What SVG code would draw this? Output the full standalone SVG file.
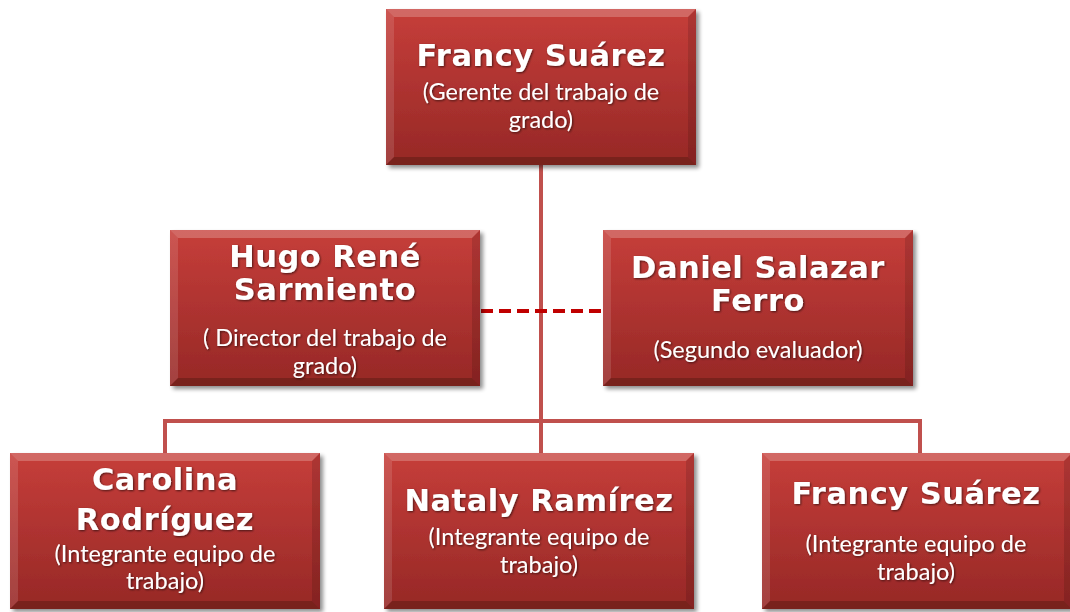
<svg xmlns="http://www.w3.org/2000/svg" width="1070" height="612" viewBox="0 0 1070 612">
<style>
.name{font-family:"DejaVu Sans","Liberation Sans",sans-serif;font-weight:bold;font-size:30.5px;fill:#fff;text-anchor:middle;letter-spacing:0.5px}
.sub{font-family:"Lato","Open Sans",sans-serif;font-size:23.5px;fill:#fff;text-anchor:middle}
.txt{filter:url(#ts)}
.line{fill:none;stroke:#c0504d;stroke-width:4}
.dash{fill:none;stroke:#c00000;stroke-width:4;stroke-dasharray:12 6}
</style>
<defs>
<linearGradient id="g" x1="0" y1="0" x2="0" y2="1">
<stop offset="0" stop-color="#c63e3a"/>
<stop offset="1" stop-color="#962826"/>
</linearGradient>
<filter id="sh" x="-10%" y="-10%" width="125%" height="125%">
<feGaussianBlur in="SourceAlpha" stdDeviation="2"/>
<feOffset dx="3" dy="3"/>
<feComponentTransfer><feFuncA type="linear" slope="0.45"/></feComponentTransfer>
<feMerge><feMergeNode/><feMergeNode in="SourceGraphic"/></feMerge>
</filter>
<filter id="ts" x="-5%" y="-20%" width="110%" height="140%">
<feGaussianBlur in="SourceAlpha" stdDeviation="1"/>
<feOffset dx="1" dy="1"/>
<feComponentTransfer><feFuncA type="linear" slope="0.6"/></feComponentTransfer>
<feMerge><feMergeNode/><feMergeNode in="SourceGraphic"/></feMerge>
</filter>
<symbol id="box" viewBox="0 0 310 156" width="310" height="156">
<rect x="0" y="0" width="310" height="156" fill="url(#g)"/>
<polygon points="0,0 310,0 302,8 8,8" fill="#fff" fill-opacity="0.22"/>
<polygon points="0,0 8,8 8,148 0,156" fill="#fff" fill-opacity="0.12"/>
<polygon points="310,0 310,156 302,148 302,8" fill="#000" fill-opacity="0.12"/>
<polygon points="0,156 8,148 302,148 310,156" fill="#000" fill-opacity="0.2"/>
</symbol>
</defs>
<rect width="1070" height="612" fill="#fff"/>
<g id="connectors">
<line class="line" x1="541" y1="165" x2="541" y2="453"/>
<polyline class="line" points="165,453 165,421 920,421 920,453"/>
<line class="dash" x1="481" y1="311" x2="603" y2="311"/>
</g>
<g id="n-gerente">
<use href="#box" x="386" y="9" filter="url(#sh)"/>
<g class="txt">
<text class="name" x="541" y="66">Francy Suárez</text>
<text class="sub" x="541" y="100">(Gerente del trabajo de</text>
<text class="sub" x="541" y="128">grado)</text>
</g>
</g>
<g id="n-director">
<use href="#box" x="170" y="230" filter="url(#sh)"/>
<g class="txt">
<text class="name" x="325" y="267">Hugo René</text>
<text class="name" x="325" y="300">Sarmiento</text>
<text class="sub" x="325" y="346">( Director del trabajo de</text>
<text class="sub" x="325" y="374">grado)</text>
</g>
</g>
<g id="n-evaluador">
<use href="#box" x="603" y="230" filter="url(#sh)"/>
<g class="txt">
<text class="name" x="758" y="278">Daniel Salazar</text>
<text class="name" x="758" y="311">Ferro</text>
<text class="sub" x="758" y="358">(Segundo evaluador)</text>
</g>
</g>
<g id="n-carolina">
<use href="#box" x="10" y="453" filter="url(#sh)"/>
<g class="txt">
<text class="name" x="165" y="490">Carolina</text>
<text class="name" x="165" y="530">Rodríguez</text>
<text class="sub" x="165" y="562">(Integrante equipo de</text>
<text class="sub" x="165" y="589">trabajo)</text>
</g>
</g>
<g id="n-nataly">
<use href="#box" x="384" y="453" filter="url(#sh)"/>
<g class="txt">
<text class="name" x="539" y="511">Nataly Ramírez</text>
<text class="sub" x="539" y="545">(Integrante equipo de</text>
<text class="sub" x="539" y="573">trabajo)</text>
</g>
</g>
<g id="n-francy">
<use href="#box" x="762" y="453" filter="url(#sh)"/>
<g class="txt">
<text class="name" x="916" y="504">Francy Suárez</text>
<text class="sub" x="916" y="552">(Integrante equipo de</text>
<text class="sub" x="916" y="580">trabajo)</text>
</g>
</g>
</svg>
